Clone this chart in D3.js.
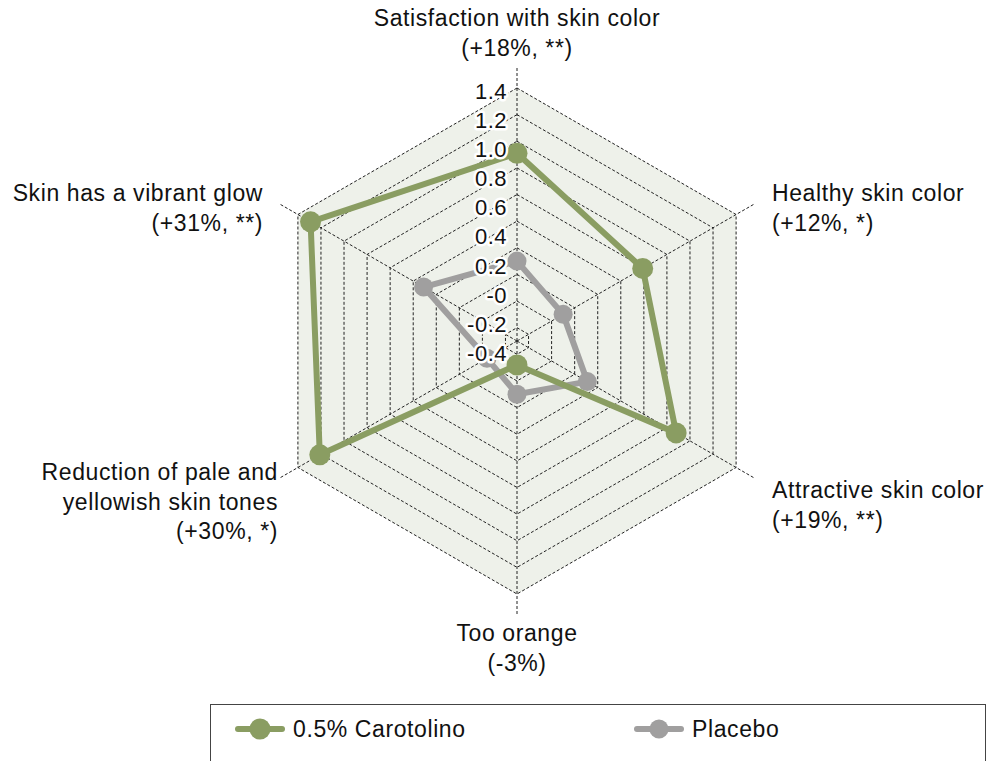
<!DOCTYPE html>
<html>
<head>
<meta charset="utf-8">
<script src="https://cdn.jsdelivr.net/npm/d3@7"></script>
<style>
  body { margin: 0; background: #fff; }
  svg { display: block; font-family: "Liberation Sans", Arial, sans-serif; }
</style>
</head>
<body>
<div id="chart"></div>
<script>
// axes, clockwise from the top
const categories = [
  ['Satisfaction with skin color', '(+18%, **)'],
  ['Healthy skin color', '(+12%, *)'],
  ['Attractive skin color', '(+19%, **)'],
  ['Too orange', '(-3%)'],
  ['Reduction of pale and', 'yellowish skin tones', '(+30%, *)'],
  ['Skin has a vibrant glow', '(+31%, **)']
];
const carotolino = [0.91, 0.59, 0.88, -0.32, 1.21, 1.29];
const placebo = [0.10, -0.10, 0.11, -0.10, -0.24, 0.31];
const ticks = [1.4, 1.2, 1.0, 0.8, 0.6, 0.4, 0.2, 0, -0.2, -0.4];
const tickLabels = ['1.4', '1.2', '1.0', '0.8', '0.6', '0.4', '0.2', '-0', '-0.2', '-0.4'];
const seriesNames = ['0.5% Carotolino', 'Placebo'];
const seriesColors = ['#8a9d62', '#a09f9f'];

const width = 987, height = 761;
const cx = 517, cy = 341, R = 253;

const svg = d3.select('#chart').append('svg')
  .attr('width', width)
  .attr('height', height);

const r = d3.scaleLinear().domain([-0.5, 1.4]).range([0, R]);
const angle = d3.scaleLinear().domain([0, categories.length]).range([0, 2 * Math.PI]);
// tick labels in the original sit on their own slightly wider spacing
const labelY = d3.scaleLinear().domain([1.4, -0.4]).range([cy - 250, cy + 12]);

const pt = (i, v) => {
  const a = angle(i);
  return [cx + r(v) * Math.sin(a), cy - r(v) * Math.cos(a)];
};
const ring = v => d3.range(categories.length).map(i => pt(i, v));

const g = svg.append('g');

// background hexagon
g.append('polygon')
  .attr('points', ring(1.4).join(' '))
  .attr('fill', '#eef1ea');

// rings
g.selectAll('polygon.ring')
  .data(ticks)
  .join('polygon')
  .attr('class', 'ring')
  .attr('points', d => ring(d).join(' '))
  .attr('fill', 'none')
  .attr('stroke', '#222')
  .attr('stroke-width', 1)
  .attr('stroke-dasharray', '3,2');

// spokes
g.selectAll('line.spoke')
  .data(categories)
  .join('line')
  .attr('class', 'spoke')
  .attr('x1', cx).attr('y1', cy)
  .attr('x2', (d, i) => cx + (R + 22) * Math.sin(angle(i)))
  .attr('y2', (d, i) => cy - (R + 22) * Math.cos(angle(i)))
  .attr('stroke', '#222')
  .attr('stroke-width', 1)
  .attr('stroke-dasharray', '3,2');

// series
const line = d3.line().curve(d3.curveLinearClosed);
[placebo, carotolino].forEach((vals, k) => {
  const color = seriesColors[1 - k];
  const pts = vals.map((v, i) => pt(i, v));
  g.append('path')
    .attr('d', line(pts))
    .attr('fill', 'none')
    .attr('stroke', color)
    .attr('stroke-width', 6)
    .attr('stroke-linejoin', 'round');
  g.selectAll(null)
    .data(pts)
    .join('circle')
    .attr('cx', d => d[0])
    .attr('cy', d => d[1])
    .attr('r', k === 1 ? 10.5 : 9.5)
    .attr('fill', color);
});

// tick labels sit on top of the series, with a white halo
g.selectAll('text.tick')
  .data(ticks)
  .join('text')
  .attr('class', 'tick')
  .attr('x', cx - 10)
  .attr('y', d => labelY(d))
  .attr('dy', '0.36em')
  .attr('text-anchor', 'end')
  .attr('font-size', 22)
  .attr('letter-spacing', 0.5)
  .attr('fill', '#111')
  .attr('stroke', '#fff')
  .attr('stroke-width', 5)
  .attr('stroke-linejoin', 'round')
  .attr('paint-order', 'stroke')
  .text((d, i) => tickLabels[i]);

// category labels
const labelPos = [
  { x: cx, y: 18, anchor: 'middle' },
  { x: 772, y: 193, anchor: 'start' },
  { x: 772, y: 490, anchor: 'start' },
  { x: cx, y: 633, anchor: 'middle' },
  { x: 278, y: 472, anchor: 'end' },
  { x: 263, y: 193, anchor: 'end' }
];
categories.forEach((lines, i) => {
  const p = labelPos[i];
  const t = svg.append('text')
    .attr('text-anchor', p.anchor)
    .attr('font-size', 23)
    .attr('letter-spacing', 0.6)
    .attr('fill', '#111');
  lines.forEach((s, j) => {
    t.append('tspan')
      .attr('x', p.x)
      .attr('y', p.y + j * 29.5)
      .attr('dy', '0.36em')
      .text(s);
  });
});

// legend
const legend = svg.append('g');
legend.append('rect')
  .attr('x', 210.5).attr('y', 704.5)
  .attr('width', 775).attr('height', 80)
  .attr('fill', '#fff')
  .attr('stroke', '#444')
  .attr('stroke-width', 1);
const legendX = [238, 637];
seriesNames.forEach((name, i) => {
  const lg = legend.append('g').attr('transform', `translate(${legendX[i]},729)`);
  lg.append('line')
    .attr('x1', 0).attr('x2', 44)
    .attr('stroke', seriesColors[i])
    .attr('stroke-width', 6)
    .attr('stroke-linecap', 'round');
  lg.append('circle')
    .attr('cx', 22)
    .attr('r', i === 0 ? 10.5 : 9.5)
    .attr('fill', seriesColors[i]);
  lg.append('text')
    .attr('x', 55)
    .attr('dy', '0.36em')
    .attr('font-size', 23)
    .attr('letter-spacing', 0.6)
    .attr('fill', '#111')
    .text(name);
});
</script>
</body>
</html>
